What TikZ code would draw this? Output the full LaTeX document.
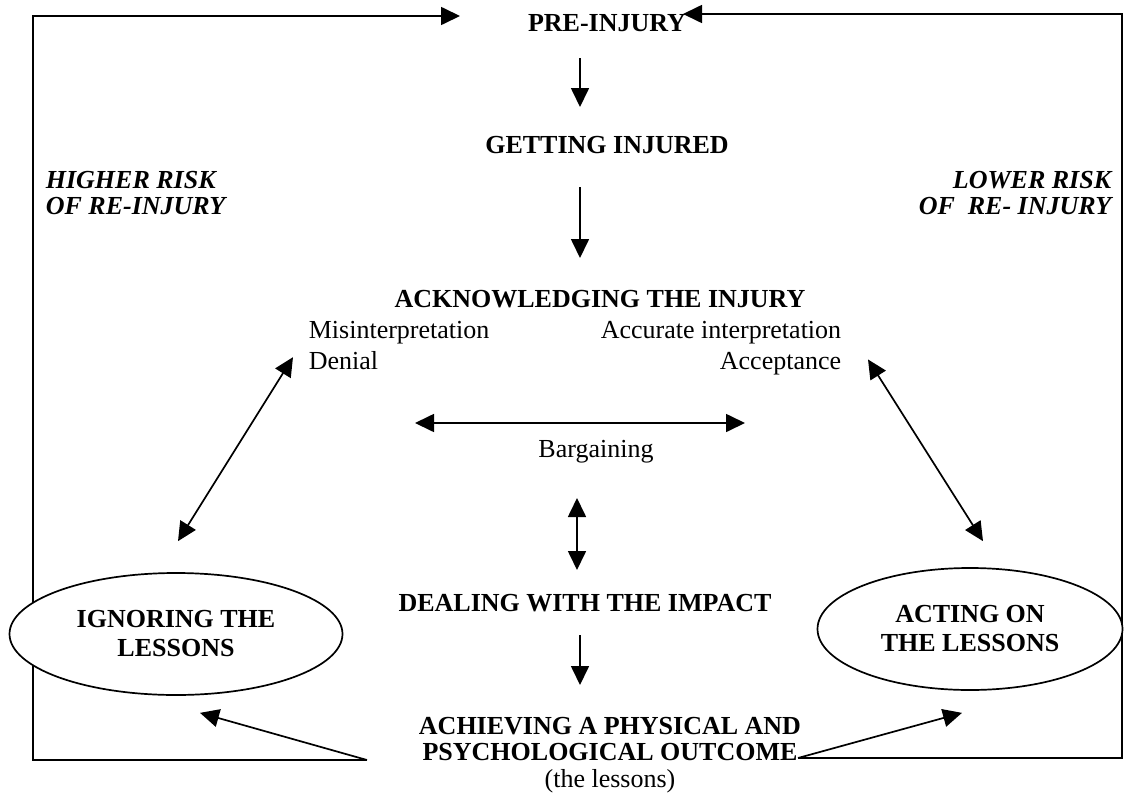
\documentclass[tikz,border=0pt]{standalone}
\usepackage{fontspec}
\setmainfont{Liberation Serif}
\usetikzlibrary{arrows.meta,shapes.geometric,calc}
\begin{document}
\begin{tikzpicture}[x=1pt,y=-1pt,line width=1.7pt,>={Triangle[length=19pt,width=18pt]},
every node/.style={inner sep=0pt,anchor=base,font=\fontsize{26}{28}\selectfont},
stage/.style={font=\fontsize{26}{26.5}\selectfont\bfseries,align=center},
risk/.style={font=\fontsize{26}{26.5}\selectfont\bfseries\itshape},
reading/.style={font=\fontsize{26}{31}\selectfont},
lesson/.style={ellipse,draw,fill=white,anchor=center,align=center,font=\fontsize{26}{29}\selectfont\bfseries}]
\useasboundingbox (0,0) rectangle (1127,803);
\node[stage] (pre) at (607,31) {PRE-INJURY};
\node[stage] (inj) at (607,153) {GETTING INJURED};
\node[stage] (ack) at (600,307) {ACKNOWLEDGING THE INJURY};
\node[reading,anchor=north west,align=left] (mis) at (308,320) {Misinterpretation\\Denial};
\node[reading,anchor=north east,align=right] (acc) at (842,320) {Accurate interpretation\\Acceptance};
\node (bar) at (596,457) {Bargaining};
\node[stage] (deal) at (585,611) {DEALING WITH THE IMPACT};
\node[stage,anchor=north] (ach) at (610,716) {ACHIEVING A PHYSICAL AND\\PSYCHOLOGICAL OUTCOME\\\mdseries(the lessons)};
\node[risk,anchor=north west,align=left] (hi) at (45,170) {HIGHER RISK\\OF RE-INJURY};
\node[risk,anchor=north east,align=right] (lo) at (1112,170) {LOWER RISK\ \\OF\ \ RE- INJURY};
\coordinate (oL) at (367,760);
\coordinate (oR) at (798,758);
\draw[->] (oL) -| (33,16) -- ($(pre.base)+(-147,-15)$);
\draw[->] (oR) -| (1122,14) -- ($(pre.base)+(76,-17)$);
\node[lesson,minimum width=333pt,minimum height=122pt] (ign) at (176,634) {IGNORING THE\\LESSONS};
\node[lesson,minimum width=305pt,minimum height=122pt] (act) at (970,629) {ACTING ON\\THE LESSONS};
\draw[->] ($(pre.base)+(-27,27)$) -- ($(inj.base)+(-27,-46)$);
\draw[->] ($(inj.base)+(-27,34)$) -- ($(ack.base)+(-20,-49)$);
\draw[<->] ($(bar.base)+(-181,-34)$) -- ($(bar.base)+(149,-34)$);
\draw[<->] ($(bar.base)+(-19,41)$) -- ($(deal.base)+(-8,-41)$);
\draw[->] ($(deal.base)+(-5,24)$) -- ($(ach.north)+(-30,-31)$);
\draw[<->] ($(mis.south west)+(-15,-13)$) -- ($(ign.north)+(2,-31)$);
\draw[<->] ($(acc.south east)+(26,-16)$) -- ($(act.north)+(13,-26)$);
\draw[->] (oL) -- ($(ign.south)+(24,17)$);
\draw[->] (oR) -- ($(act.south)+(-8,22)$);
\end{tikzpicture}
\end{document}
